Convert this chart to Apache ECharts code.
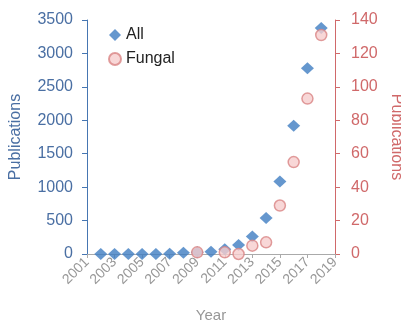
<!DOCTYPE html>
<html><head><meta charset="utf-8">
<script src="https://cdn.jsdelivr.net/npm/echarts@6/dist/echarts.min.js"></script>
<style>html,body{margin:0;padding:0;background:#fff}#c{width:401px;height:322px}</style>
</head><body><div id="c"></div>
<script>
var years = ['2001','2002','2003','2004','2005','2006','2007','2008','2009','2010','2011','2012','2013','2014','2015','2016','2017','2018','2019'];
var allPubs = [null,0,0,0,0,0,5,20,25,35,70,135,260,540,1085,1920,2780,3380,null];
var fungalPubs = [null,null,null,null,null,null,null,null,1,null,1,0,5,7,29,55,93,131,null];
var leftTicks = [0,500,1000,1500,2000,2500,3000,3500];
var rightTicks = [0,20,40,60,80,100,120,140];

var blue = '#4676b2', blueText = '#4a6fa3', red = '#d0696a', gray = '#979797';
var font = 'Liberation Sans, Arial, sans-serif';
var chart = echarts.init(document.getElementById('c'), null, {renderer:'canvas'});
chart.setOption({
  animation:false,
  grid:{left:87,right:66,top:20,bottom:68,containLabel:false,outerBoundsMode:'none'},
  legend:{left:103,top:22,orient:'vertical',itemGap:8,itemWidth:12,itemHeight:12,
    textStyle:{fontSize:16,color:'#222',fontFamily:font},
    data:[{name:'All'},{name:'Fungal'}]},
  xAxis:{type:'category',data:years,boundaryGap:false,
    name:'Year',nameLocation:'middle',nameGap:54,
    nameTextStyle:{color:gray,fontSize:15,fontFamily:font},
    axisLine:{lineStyle:{color:'#aaa',width:1}},
    axisTick:{interval:1,length:4,lineStyle:{color:'#aaa'}},
    axisLabel:{interval:1,rotate:45,color:gray,fontSize:14,fontFamily:font,margin:6}},
  yAxis:[
    {type:'value',min:0,max:3500,interval:500,
     name:'Publications',nameLocation:'middle',nameGap:63,
     nameTextStyle:{color:blueText,fontSize:16,fontFamily:font},
     axisLine:{show:true,lineStyle:{color:blue}},
     axisTick:{show:true,length:5,lineStyle:{color:blue}},
     splitLine:{show:false},
     axisLabel:{color:blueText,fontSize:16,fontFamily:font,margin:14,
       formatter:function(v){return leftTicks.indexOf(v)>=0?String(v):'';}}},
    {type:'value',min:0,max:140,interval:20,position:'right',
     name:'Publications',nameLocation:'middle',nameGap:52,nameRotate:-90,
     nameTextStyle:{color:red,fontSize:16,fontFamily:font},
     axisLine:{show:true,lineStyle:{color:red}},
     axisTick:{show:true,length:5,lineStyle:{color:red}},
     splitLine:{show:false},
     axisLabel:{color:red,fontSize:16,fontFamily:font,margin:16,
       formatter:function(v){return rightTicks.indexOf(v)>=0?String(v):'';}}}
  ],
  series:[
    {name:'All',type:'scatter',yAxisIndex:0,data:allPubs,symbol:'diamond',symbolSize:[13,12],
     itemStyle:{color:'#3f7dc2'},z:2},
    {name:'Fungal',type:'scatter',yAxisIndex:1,data:fungalPubs,symbol:'circle',symbolSize:11,
     itemStyle:{color:'#f6cdcd',borderColor:'#d98585',borderWidth:1.5},z:3}
  ]
});
</script></body></html>
